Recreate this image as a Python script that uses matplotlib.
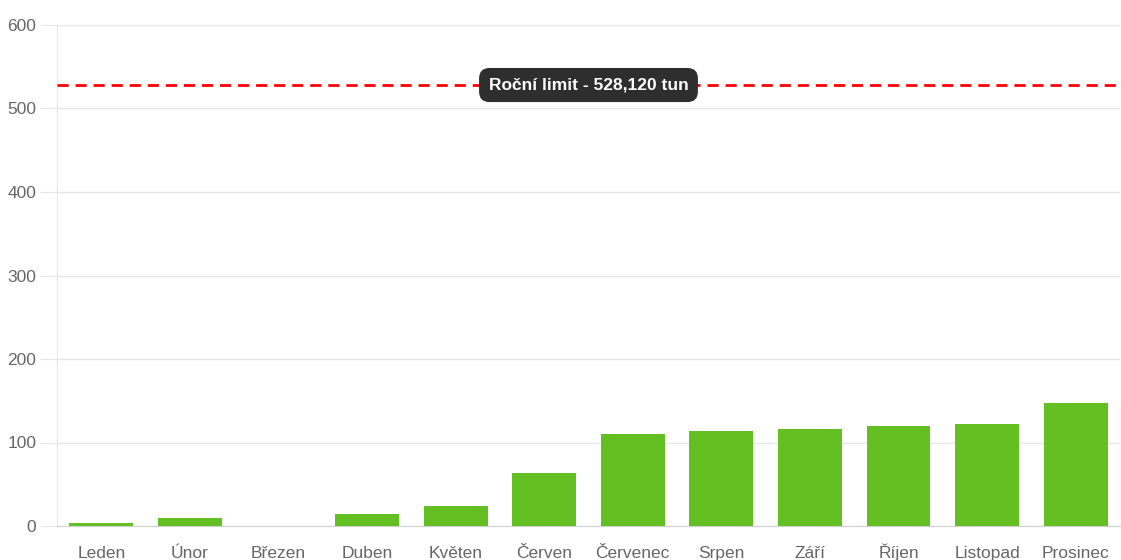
import matplotlib.pyplot as plt
from matplotlib.ticker import MultipleLocator

plt.rcParams['font.family'] = ['Liberation Sans', 'DejaVu Sans']

# data
mesice = ["Leden", "Únor", "Březen", "Duben", "Květen", "Červen",
          "Červenec", "Srpen", "Září", "Říjen", "Listopad", "Prosinec"]
hodnoty = [4, 9, 0, 14, 24, 63, 110, 114, 116, 120, 122, 147]
rocni_limit = 528.12
limit_text = "Roční limit - 528,120 tun"

fig = plt.figure(figsize=(11.21, 5.6), dpi=100)
ax = fig.add_axes([57 / 1121, 34 / 560, 1063 / 1121, 501 / 560])

x = range(len(mesice))
ax.bar(x, hodnoty, width=0.72, color="#64c022", zorder=3)

# limit line + label
ax.axhline(rocni_limit, color="#ff0000", linestyle=(0, (4, 2.5)), linewidth=2, zorder=4)
ax.text((len(mesice) - 1) / 2, rocni_limit, limit_text, ha="center", va="center",
        color="white", fontsize=12.5, fontweight="bold", zorder=5,
        bbox=dict(boxstyle="round,pad=0.55,rounding_size=0.6", fc="#2e2e2e", ec="none"))

ax.set_xlim(-0.5, len(mesice) - 0.5)
ax.set_ylim(0, 600)
ax.yaxis.set_major_locator(MultipleLocator(100))
ax.set_xticks(list(x))
ax.set_xticklabels(mesice)

ax.grid(axis="y", color="#e6e6e6", linewidth=1, zorder=0)
ax.set_axisbelow(True)
for s in ["top", "right"]:
    ax.spines[s].set_visible(False)
ax.spines["left"].set_color("#e6e6e6")
ax.spines["bottom"].set_color("#d0d0d0")

ax.tick_params(axis="y", length=12, color="#e6e6e6", labelsize=12.5, labelcolor="#666666", pad=3)
ax.tick_params(axis="x", length=0, labelsize=12.5, labelcolor="#666666", pad=23)
for lbl in ax.get_xticklabels():
    lbl.set_verticalalignment("baseline")

fig.savefig("out.png", dpi=100)
